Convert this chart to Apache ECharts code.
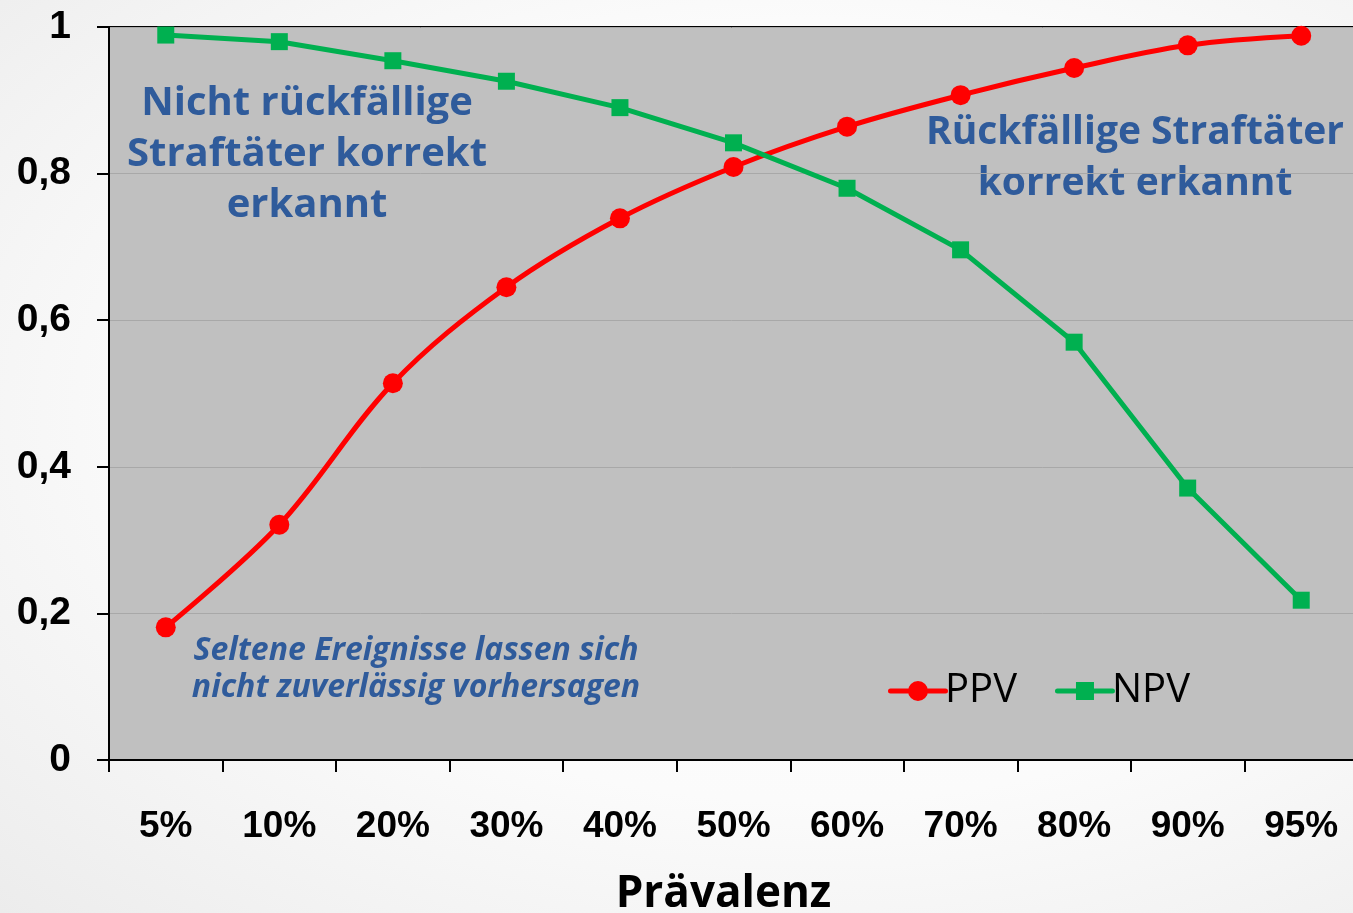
<!DOCTYPE html>
<html><head><meta charset="utf-8">
<script src="https://cdn.jsdelivr.net/npm/echarts@6/dist/echarts.min.js"></script>
<style>
html,body{margin:0;padding:0;width:1353px;height:913px;overflow:hidden;
background:radial-gradient(ellipse at 60% 45%, #ffffff 0%, #fbfbfb 55%, #ececec 100%);}
#c{width:1353px;height:913px;}
</style></head><body>
<div id="c"></div>
<script>
const categories = ['5%','10%','20%','30%','40%','50%','60%','70%','80%','90%','95%'];
const ppv = [0.181,0.321,0.514,0.645,0.739,0.809,0.864,0.907,0.944,0.975,0.988];
const npv = [0.989,0.980,0.954,0.926,0.890,0.842,0.780,0.696,0.570,0.371,0.218];
const yTicks = [0,0.2,0.4,0.6,0.8,1];
const seriesNames = ['PPV','NPV'];
const xTitle = 'Prävalenz';
const noteLeft = 'Nicht rückfällige\nStraftäter korrekt\nerkannt';
const noteRight = 'Rückfällige Straftäter\nkorrekt erkannt';
const noteBottom = 'Seltene Ereignisse lassen sich\nnicht zuverlässig vorhersagen';

const blue = '#2f5b9b';
const annFont = '"Open Sans", "DejaVu Sans", sans-serif';
// legend icons: line with a marker in the middle (60 x 20 box)
const iconCircle = 'path://M2.5,7.5 L57.5,7.5 A2.5,2.5 0 0 1 57.5,12.5 L2.5,12.5 A2.5,2.5 0 0 1 2.5,7.5 Z M40,10 A10,10 0 1 1 20,10 A10,10 0 1 1 40,10 Z';
const iconSquare = 'path://M2.5,7.5 L57.5,7.5 A2.5,2.5 0 0 1 57.5,12.5 L2.5,12.5 A2.5,2.5 0 0 1 2.5,7.5 Z M21,1 L39,1 L39,19 L21,19 Z';
const chart = echarts.init(document.getElementById('c'), null, {renderer:'canvas'});
chart.setOption({
  backgroundColor: 'transparent',
  animation: false,
  grid: {left:109, top:27, width:1249, height:733, show:true, backgroundColor:'#c0c0c0', borderColor:'#000', borderWidth:2,
         containLabel:false, outerBoundsMode:'none'},
  xAxis: {
    type:'category', data: categories, boundaryGap:true,
    name: xTitle, nameLocation:'middle', nameGap:112,
    nameTextStyle:{fontFamily:annFont, fontWeight:'bold', fontSize:44, color:'#000', padding:[0,20,0,0]},
    axisLine:{lineStyle:{color:'#000', width:2}},
    axisTick:{show:true, length:12, lineStyle:{color:'#000', width:2}},
    axisLabel:{margin:48, fontFamily:'"Liberation Sans", Arial, sans-serif', fontWeight:'bold', fontSize:37, color:'#000'}
  },
  yAxis: {
    type:'value', min:0, max:1, interval:0.2,
    axisLine:{show:true, lineStyle:{color:'#000', width:2}},
    axisTick:{show:true, length:12, lineStyle:{color:'#000', width:2}},
    splitLine:{lineStyle:{color:'#a8a8a8', width:1}},
    axisLabel:{margin:38, fontFamily:'"Liberation Sans", Arial, sans-serif', fontWeight:'bold', fontSize:39, color:'#000',
      formatter: v => yTicks.includes(+v.toFixed(1)) ? String(+v.toFixed(1)).replace('.', ',') : ''}
  },
  legend: {
    data: [{name:seriesNames[0], icon:iconCircle}, {name:seriesNames[1], icon:iconSquare}],
    left:883, top:666, itemWidth:60, itemHeight:20, itemGap:38,
    textStyle:{fontFamily:annFont, fontSize:40, fontWeight:500, color:'#000', padding:[0,0,0,-8]}
  },
  series: [
    {name:seriesNames[0], type:'line', data:ppv, smooth:0.35, symbol:'circle', symbolSize:20,
     lineStyle:{color:'#ff0000', width:5}, itemStyle:{color:'#ff0000'}},
    {name:seriesNames[1], type:'line', data:npv, smooth:false, symbol:'rect', symbolSize:17,
     lineStyle:{color:'#00b050', width:5}, itemStyle:{color:'#00b050'}}
  ],
  graphic: [
    {type:'text', style:{text:noteLeft, x:307, y:78, align:'center', verticalAlign:'top',
      font:'bold 40px ' + annFont, fill:blue, lineHeight:51}},
    {type:'text', style:{text:noteRight, x:1135, y:107, align:'center', verticalAlign:'top',
      font:'bold 39px ' + annFont, fill:blue, lineHeight:51}},
    {type:'text', style:{text:noteBottom, x:416, y:632, align:'center', verticalAlign:'top',
      font:'italic bold 32px ' + annFont, fill:blue, lineHeight:37}}
  ]
});
</script>
</body></html>
